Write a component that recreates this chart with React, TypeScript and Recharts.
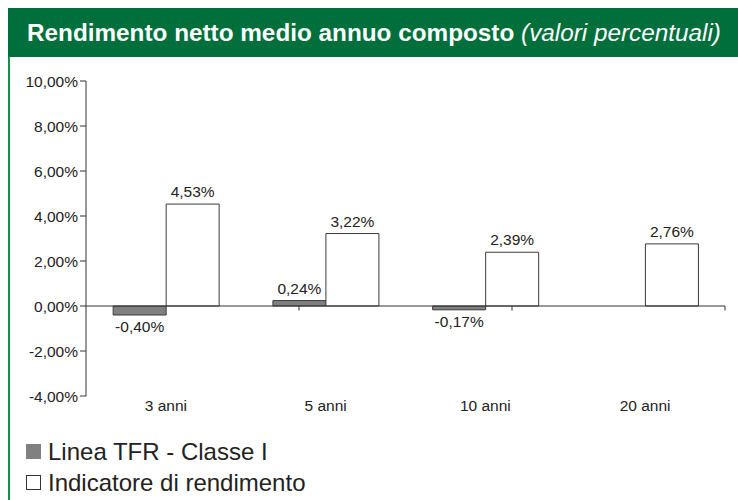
import React from 'react';
import { BarChart, Bar, XAxis, YAxis, ReferenceLine, LabelList } from 'recharts';

const categories = ['3 anni', '5 anni', '10 anni', '20 anni'];
const lineaTFR: (number | null)[] = [-0.4, 0.24, -0.17, null];
const indicatore: number[] = [4.53, 3.22, 2.39, 2.76];
const yTicks = [-4, -2, 0, 2, 4, 6, 8, 10];
const boundaryTicks = [1, 2, 3, 4];
const seriesNames = ['Linea TFR - Classe I', 'Indicatore di rendimento'];
const title = 'Rendimento netto medio annuo composto';
const subtitle = '(valori percentuali)';

const data = categories.map((c, i) => ({ cat: c, tfr: lineaTFR[i], ind: indicatore[i] }));

const FONT = '"Liberation Sans", Arial, Helvetica, sans-serif';
const fmt = (v: number) => v.toFixed(2).replace('.', ',') + '%';

const ValueLabel = (props: any) => {
  const { x, y, width, height, value } = props;
  if (value === null || value === undefined) return null;
  const top = Math.min(y, y + height);
  const bottom = Math.max(y, y + height);
  const cx = x + width / 2;
  const ty = value < 0 ? bottom + 17 : top - 7;
  return (
    <text x={cx} y={ty} textAnchor="middle" fontSize={15.5} fill="#222" fontFamily={FONT}>
      {fmt(value)}
    </text>
  );
};

export default function App() {
  return (
    <div style={{ position: 'absolute', left: 8, top: 8, width: 730, height: 492, fontFamily: FONT, background: '#fff' }}>
      <style>{`html,body{overflow:hidden}`}</style>
      <div style={{ position: 'absolute', left: 0, top: 49, width: 2, height: 443, background: '#1f8a4c' }} />
      <div
        style={{
          position: 'absolute', left: 0, top: 0, width: 730, height: 49, background: '#006f3c',
          color: '#fff', fontSize: 24.3, lineHeight: '50px', paddingLeft: 19, boxSizing: 'border-box', whiteSpace: 'nowrap',
        }}
      >
        <span style={{ fontWeight: 'bold' }}>{title}</span>{' '}
        <span style={{ fontStyle: 'italic' }}>{subtitle}</span>
      </div>
      <div style={{ position: 'absolute', left: 0, top: 49 }}>
        <BarChart
          width={720}
          height={363}
          data={data}
          margin={{ top: 24, right: 3, left: 0, bottom: 0 }}
          barCategoryGap="17%"
          barGap={0}
        >
          <XAxis
            dataKey="cat"
            xAxisId="cat"
            axisLine={false}
            tickLine={false}
            height={24}
            tick={{ fontSize: 15.5, fill: '#222', fontFamily: FONT, dy: -2 }}
            tickMargin={0}
          />
          <XAxis xAxisId="num" type="number" domain={[0, 4]} hide />
          <YAxis
            domain={[-4, 10]}
            ticks={yTicks}
            width={78}
            interval={0}
            tickFormatter={fmt}
            axisLine={{ stroke: '#333' }}
            tickLine={{ stroke: '#333' }}
            tickSize={6}
            tickMargin={2}
            tick={{ fontSize: 15.5, fill: '#222', fontFamily: FONT }}
          />
          <Bar dataKey="tfr" xAxisId="cat" fill="#808080" stroke="#3a3a3a" strokeWidth={1} isAnimationActive={false}>
            <LabelList dataKey="tfr" content={ValueLabel} />
          </Bar>
          <Bar dataKey="ind" xAxisId="cat" fill="#ffffff" stroke="#3a3a3a" strokeWidth={1} isAnimationActive={false}>
            <LabelList dataKey="ind" content={ValueLabel} />
          </Bar>
          <ReferenceLine xAxisId="num" y={0} stroke="#333" strokeWidth={1} />
          {boundaryTicks.map((t) => (
            <ReferenceLine
              key={t}
              xAxisId="num"
              segment={[{ x: t, y: 0 }, { x: t, y: -0.2 }]}
              stroke="#333"
              strokeWidth={1}
            />
          ))}
        </BarChart>
      </div>
      <div style={{ position: 'absolute', left: 18, top: 428, fontSize: 24, lineHeight: '31px', color: '#222' }}>
        {seriesNames.map((n, i) => (
          <div key={n} style={{ display: 'flex', alignItems: 'center' }}>
            <span
              style={{
                display: 'inline-block', width: 15, height: 15, marginRight: 7, boxSizing: 'border-box',
                background: i === 0 ? '#808080' : '#fff', border: i === 0 ? 'none' : '1px solid #333',
              }}
            />
            <span>{n}</span>
          </div>
        ))}
      </div>
    </div>
  );
}
